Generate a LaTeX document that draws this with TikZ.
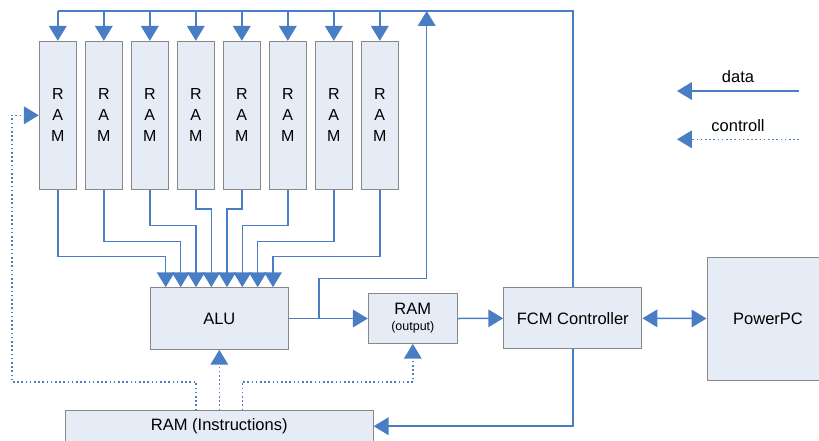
\documentclass[tikz,border=0pt]{standalone}
\usepackage{fontspec}
\setmainfont{Liberation Sans}
\usetikzlibrary{arrows.meta,positioning}
\definecolor{wire}{HTML}{4A7EC4}
\definecolor{boxfill}{HTML}{E6ECF6}
\definecolor{boxline}{HTML}{888888}
\tikzset{
 blk/.style={draw=boxline,fill=boxfill,line width=1pt,inner sep=0pt,
   font=\fontsize{16.5}{19}\selectfont},
 data/.style={draw=wire,line width=1.5pt,arrows={-Triangle[length=11pt,width=13pt,scale=1.35]}},
 ctrl/.style={data,line width=1.6pt,dash pattern=on 1.6pt off 2.6pt},
 lbl/.style={font=\fontsize{16.5}{19}\selectfont,above=4pt}
}
\begin{document}
\begin{tikzpicture}[x=1pt,y=-1pt]
 \clip (0,0) rectangle (819,440);
 %
 \foreach \i in {1,...,8}
  \node[blk,minimum width=37pt,minimum height=148pt,align=center,
    font=\fontsize{16}{21}\selectfont] (ram\i) at (11.8+46*\i,115.3) {R\\A\\M};
 %
 \node[blk,minimum width=138pt,minimum height=61.6pt] (alu) at (219.3,318.5) {ALU};
 \node[blk,minimum width=89pt,minimum height=49.6pt,align=center,
   font=\fontsize{16.5}{16}\selectfont] (out) at (412.8,318.5)
   {RAM\\{\fontsize{12.5}{14}\selectfont (output)}};
 \node[blk,minimum width=138.3pt,minimum height=61.3pt] (fcm) at (572.8,318.3) {FCM Controller};
 \node[blk,minimum width=122pt,minimum height=123pt] (ppc) at (768,318.5) {PowerPC};
 \node[blk,minimum width=307.7pt,minimum height=31pt] (ins) at (219.3,426.2) {RAM (Instructions)};
 %
 \coordinate (bus) at (0,11);
 \coordinate (tap) at (426.7,278.3);
 \coordinate (j) at (319,318.5);
 \coordinate (c1) at (196,381.7);
 \coordinate (c2) at (242.3,381.7);
 \coordinate (cl) at (11.7,381.7);
 %
 \draw[wire,line width=1.5pt] (fcm.north) -- (fcm.north |- bus) -- (ram1.north |- bus);
 \foreach \i in {1,...,8}
  \draw[data] (ram\i.north |- bus) -- (ram\i.north);
 %
 \foreach \i/\x/\y in {1/165.7/256.7,2/180.7/241.7,3/196/225.7,4/211.3/209,
   5/227/209,6/242.3/225.7,7/257.7/241.7,8/273/256.7}{
  \coordinate (k\i) at (\x,\y);
  \draw[data] (ram\i.south) |- (k\i) -- (k\i |- alu.north);
 }
 %
 \draw[data] (alu.east) -- (out.west);
 \draw[data] (j) |- (tap) -- (tap |- bus);
 \draw[data] (out.east) -- (fcm.west);
 \draw[data,arrows={Triangle[length=11pt,width=13pt,scale=1.35]-Triangle[length=11pt,width=13pt,scale=1.35]}] (fcm.east) -- (ppc.west);
 \draw[data] (fcm.south) |- (ins.east);
 %
 \draw[ctrl] (ins.north -| c1) -- (c1) -- (cl) |- (ram1.west);
 \draw[ctrl] (ins.north) -- (alu.south);
 \draw[ctrl] (ins.north -| c2) -- (c2) -| (out.south);
 %
 \coordinate (d1) at (799,91); \coordinate (d2) at (677,91);
 \coordinate (e1) at (799,139.3); \coordinate (e2) at (677,139.3);
 \draw[data] (d1) -- node[lbl]{data} (d2);
 \draw[ctrl] (e1) -- node[lbl]{controll} (e2);
\end{tikzpicture}
\end{document}
